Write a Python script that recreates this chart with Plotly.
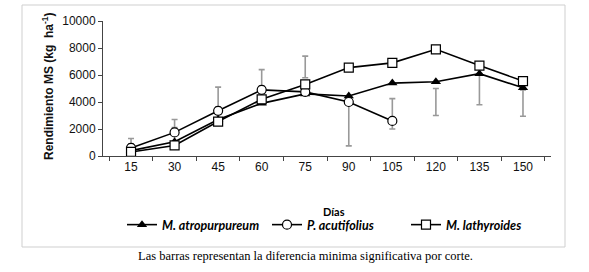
import plotly.graph_objects as go

dias = ["15", "30", "45", "60", "75", "90", "105", "120", "135", "150"]
atropurpureum = [400, 1050, 2700, 3900, 4600, 4450, 5400, 5500, 6100, 5050]
acutifolius = [600, 1750, 3350, 4900, 4750, 4000, 2600, None, None, None]
lathyroides = [300, 780, 2550, 4200, 5300, 6550, 6900, 7900, 6700, 5550]
lsd_low = [900, 2100, 3650, 5200, 5800, 750, 2000, 3000, 3800, 2950]
lsd_high = [1300, 2700, 5100, 6400, 7400, 4150, 4250, 5000, 6100, 4900]
y_ticks = [0, 2000, 4000, 6000, 8000, 10000]
y_ticktext = ["0", "2000", "4000", "6000", "8000", "10000"]

L, R, T, B = 103, 38, 21, 116
W, H = 589, 272
pw, ph = W - L - R, H - T - B


def px(x):
    return (x - L) / pw


def py(y):
    return (H - B - y) / ph


fig = go.Figure()

mid = [(a + b) / 2 for a, b in zip(lsd_low, lsd_high)]
half = [(b - a) / 2 for a, b in zip(lsd_low, lsd_high)]
fig.add_trace(go.Scatter(
    x=dias, y=mid, mode="markers", showlegend=False, hoverinfo="skip",
    marker=dict(size=1, opacity=0),
    error_y=dict(type="data", array=half, symmetric=True, color="#999999",
                 thickness=1.6, width=3),
))

line = dict(color="black", width=1.6)
fig.add_trace(go.Scatter(
    x=dias, y=atropurpureum, mode="lines+markers", name="M. atropurpureum",
    line=line, marker=dict(symbol="triangle-up", size=9, color="black"),
    legend="legend",
))
fig.add_trace(go.Scatter(
    x=dias, y=acutifolius, mode="lines+markers", name="P. acutifolius",
    line=line, marker=dict(symbol="circle", size=9, color="white",
                           line=dict(color="black", width=1.2)),
    legend="legend2",
))
fig.add_trace(go.Scatter(
    x=dias, y=lathyroides, mode="lines+markers", name="M. lathyroides",
    line=line, marker=dict(symbol="square", size=9, color="white",
                           line=dict(color="black", width=1.2)),
    legend="legend3",
))

legend_font = dict(family="Lato, Liberation Sans, sans-serif", size=12.5,
                   color="black", style="italic", weight="bold")


def leg(text_x):
    return dict(orientation="h", xref="container", yref="container",
                x=(text_x - 41) / W, xanchor="left", y=1 - 225 / H,
                yanchor="middle", font=legend_font,
                bgcolor="rgba(0,0,0,0)", itemwidth=30)


fig.update_layout(
    width=W, height=H,
    margin=dict(l=L, r=R, t=T, b=B, pad=0, autoexpand=False),
    paper_bgcolor="white", plot_bgcolor="white",
    font=dict(family="Liberation Sans, Arial, sans-serif", size=12, color="#111"),
    xaxis=dict(type="category", showgrid=False, showline=True, linecolor="#444",
               linewidth=1, ticks="outside", ticklen=4, tickcolor="#444",
               tickson="boundaries", tickfont=dict(size=12), fixedrange=True,
               automargin=False),
    yaxis=dict(range=[0, 10000], tickvals=y_ticks, ticktext=y_ticktext,
               showgrid=False, showline=True, linecolor="#444", linewidth=1,
               ticks="outside", ticklen=4, tickcolor="#444", zeroline=False,
               tickfont=dict(size=12), fixedrange=True, automargin=False),
    legend=leg(163),
    legend2=leg(308),
    legend3=leg(447),
    showlegend=True,
    hovermode=False,
)

fig.add_shape(type="rect", xref="paper", yref="paper",
              x0=px(22), x1=px(565), y0=py(247), y1=py(5),
              line=dict(color="#cfcfcf", width=1), fillcolor="rgba(0,0,0,0)",
              layer="below")

fig.add_annotation(xref="paper", yref="paper", x=px(48), y=py(87),
                   xanchor="center", yanchor="middle",
                   text="Rendimiento MS (kg  ha<sup>-1</sup>)", textangle=-90,
                   showarrow=False, font=dict(size=12, weight="bold", color="#111"))
fig.add_annotation(xref="paper", yref="paper", x=px(334), y=py(211),
                   xanchor="center", yanchor="middle",
                   text="Días", showarrow=False,
                   font=dict(family="Lato, Liberation Sans, sans-serif", size=11,
                             weight="bold", color="black"))
fig.add_annotation(xref="paper", yref="paper", x=px(305), y=py(256),
                   xanchor="center", yanchor="middle",
                   text="Las barras representan la diferencia minima significativa por corte.",
                   showarrow=False,
                   font=dict(family="Liberation Serif, Times New Roman, serif",
                             size=12.5, color="black"))

fig.write_html("out.html", config={"displayModeBar": False, "staticPlot": True},
               post_script="document.body.style.margin='0';")
